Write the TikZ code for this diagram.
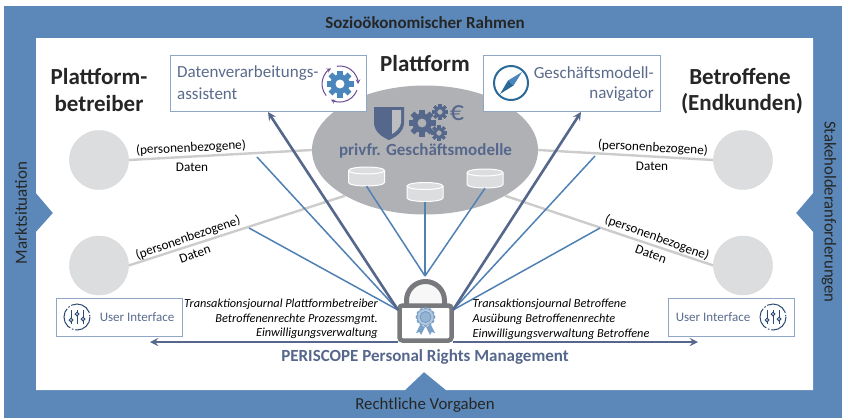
\documentclass[tikz,border=0pt]{standalone}
\usepackage{fontspec}
\setmainfont{Carlito}
\usetikzlibrary{shapes.geometric}

\definecolor{framebl}{HTML}{5B88B8}
\definecolor{linebl}{HTML}{4F81B5}
\definecolor{darkbl}{HTML}{56678C}
\definecolor{boxbl}{HTML}{8FA6C4}
\definecolor{iconbl}{HTML}{4A86BC}
\definecolor{txtbl}{HTML}{5A6B8C}
\definecolor{ellgr}{HTML}{B0B1B5}
\definecolor{dbgr}{HTML}{DCDDDF}
\definecolor{lockgr}{HTML}{77797C}
\definecolor{purp}{HTML}{6A4C93}
\definecolor{compbl}{HTML}{2A6A98}
\definecolor{uibl}{HTML}{2D4A73}

\newcommand{\fsz}[1]{\fontsize{#1}{#1}\selectfont}

\tikzset{
  pics/gearpic/.style={code={
    \path[pic actions, even odd rule] (0,0) circle (.72) (0,0) circle (.34);
    \foreach \a in {0,45,...,315}
      \path[pic actions, rotate=\a] (-.2,.6) rectangle (.2,1);
  }},
  pics/uipic/.style={code={
    \draw[uibl, line width=1pt, dash pattern=on 22pt off 2pt on 1.5pt off 2pt] (0,0) circle (13);
    \foreach \x/\y in {-6/3,0/-3,6/2} {
      \draw[uibl, line width=1pt] (\x,-7) -- (\x,7);
      \draw[uibl, fill=white, line width=1pt] (\x,\y) circle (1.8);
    }
  }},
  pics/dbpic/.style={code={
    \draw[white, fill=dbgr, line width=1pt] (-18,-6) -- (-18,6) arc[start angle=180, end angle=0, x radius=18, y radius=3.5]
      -- (18,-6) arc[start angle=0, end angle=-180, x radius=18, y radius=3.5] -- cycle;
    \draw[white, line width=1pt] (-18,-6) arc[start angle=180, end angle=0, x radius=18, y radius=3.5];
  }}
}

\begin{document}
\begin{tikzpicture}[x=1pt,y=-1pt]
  \useasboundingbox (0,0) rectangle (842,418);

  % frame
  \fill[framebl] (4,6) rectangle (842,418);
  \fill[white] (36,38) -- (813,38) -- (813,193) -- (796,213) -- (813,232) -- (813,390)
    -- (446,390) -- (424,372) -- (405,390) -- (36,390) -- (36,232) -- (53,213) -- (36,193) -- cycle;

  \begin{scope}[every node/.style={inner sep=0pt}]
    \node[font=\fsz{17}\bfseries, text=black!85] (rahmen) at (425,23) {Sozioökonomischer Rahmen};
    \node[font=\fsz{16.8}, text=black!85] (recht) at (425,405) {Rechtliche Vorgaben};
    \node[font=\fsz{17}, text=black!85, rotate=90] (markt) at (21,213) {Marktsituation};
    \node[font=\fsz{16.7}, text=black!85, rotate=-90] (stake) at (829,212) {Stakeholderanforderungen};
  \end{scope}

  % persons and platform
  \begin{scope}[every node/.style={circle, draw=black!15, fill=dbgr, minimum size=59pt, inner sep=0pt}]
    \node (pb1) at (99,160) {};
    \node (pb2) at (99,265.5) {};
    \node (bt1) at (743,160) {};
    \node (bt2) at (743,265.5) {};
  \end{scope}

  \node[ellipse, fill=ellgr, minimum width=226pt, minimum height=129pt, inner sep=0pt] (gm) at (425,150) {};

  \begin{scope}[every edge/.style={draw=black!20, line width=2.4pt}]
    \path (pb1.east) edge (gm.west);
    \path (pb2.east) edge (gm.south west);
    \path (bt1.west) edge (gm.east);
    \path (bt2.west) edge (gm.south east);
  \end{scope}

  % data bases
  \begin{scope}[every node/.style={minimum width=36pt, minimum height=19pt, inner sep=0pt}]
    \node (db1) at (366.5,176.5) {};
    \node (db2) at (425,192) {};
    \node (db3) at (485,178.5) {};
  \end{scope}
  \pic at (db1) {dbpic};
  \pic at (db2) {dbpic};
  \pic at (db3) {dbpic};

  % lock
  \draw[lockgr, fill=black!3, line width=5pt] (406.5,306) -- (406.5,300.5) arc[start angle=180, end angle=360, radius=19] -- (444.5,306);
  \node[draw=lockgr, fill=white, line width=4.5pt, rounded corners=3pt, minimum width=52pt, minimum height=35pt, inner sep=0pt] (lock) at (425.5,323) {};
  \coordinate (locktop) at (425,276);
  \coordinate (lockl) at (398,310);
  \coordinate (lockr) at (453,310);
  \foreach \a in {0,30,...,330}
    \fill[linebl!75] (425.5,317) ++(\a:7.7) circle (2.2);
  \fill[linebl!45] (425.5,317) circle (8);
  \draw[linebl!80, fill=linebl!60, line width=.8pt] (425.5,317) circle (5.5);
  \fill[linebl!75] (420,325) -- (425,327) -- (421,335) -- (419.5,332) -- (416,333) -- cycle;
  \fill[linebl!75] (431,325) -- (426,327) -- (430,335) -- (431.5,332) -- (435,333) -- cycle;

  % free ends of the lines
  \coordinate (f1) at (257,157);
  \coordinate (f2) at (249,228);
  \coordinate (f3) at (595,156);
  \coordinate (f4) at (600,228);
  \coordinate (t1) at (268,112);
  \coordinate (t2) at (581,112);
  \coordinate (a1) at (150,342);
  \coordinate (a2) at (698,342);
  \coordinate (a3) at (398,342);
  \coordinate (a4) at (453,342);

  \begin{scope}[every edge/.style={draw=linebl, line width=1.5pt}]
    \path (lockl) edge (f1);
    \path (lockl) edge (f2);
    \path (lockr) edge (f3);
    \path (lockr) edge (f4);
    \path (locktop) edge (db1.south);
    \path (locktop) edge (db2.south);
    \path (locktop) edge (db3.south);
  \end{scope}

  % top boxes
  \begin{scope}[every node/.style={draw=boxbl, fill=white, line width=1pt, minimum height=56pt, inner sep=0pt}]
    \node[minimum width=196pt] (assist) at (268.5,83) {};
    \node[minimum width=177pt] (navi) at (571.5,83) {};
  \end{scope}

  \begin{scope}[every edge/.style={draw=darkbl, line width=2.6pt, -stealth}]
    \path (lockl) edge (t1);
    \path (lockr) edge (t2);
    \path (a3) edge (a1);
    \path (a4) edge (a2);
  \end{scope}

  % UI boxes
  \begin{scope}[every node/.style={draw=boxbl, fill=white, line width=1pt, minimum width=126pt, minimum height=38pt, inner sep=0pt}]
    \node (ui1) at (119,317) {};
    \node (ui2) at (731,317) {};
  \end{scope}
  \pic at (77,317) {uipic};
  \pic at (773,317) {uipic};

  % icons
  \pic[fill=iconbl, scale=13.5] at (340,84) {gearpic};
  \foreach \a in {20,140,260}
    \draw[purp, line width=1pt, -stealth] (340,84) ++(\a:18) arc[start angle=\a, end angle=\a+100, radius=18];
  \draw[compbl, fill=white, line width=2pt] (511,83) circle (17);
  \fill[iconbl] (522,72) -- (508,80.5) -- (513.5,85.5) -- cycle;
  \fill[compbl] (500,94) -- (508,80.5) -- (513.5,85.5) -- cycle;

  \fill[darkbl] (374,107) -- (404,107) -- (404,124) .. controls (403,132) and (396,137) .. (389,140)
     .. controls (382,137) and (375,132) .. (374,124) -- cycle;
  \fill[ellgr!85] (392,110) -- (401,110) -- (401,123) .. controls (400,128) and (396,132) .. (392,134) -- cycle;
  \pic[fill=darkbl, scale=13.5] at (422,123) {gearpic};
  \pic[fill=darkbl, scale=8] at (440,112) {gearpic};
  \pic[fill=darkbl, scale=8] at (439,133) {gearpic};

  \begin{scope}[every node/.style={inner sep=0pt}]
    \node[font=\fsz{28}, text=darkbl] (euro) at (457,113) {€};
    \node[font=\fsz{17}\bfseries, text=darkbl] (gmtxt) at (425.5,151) {privfr. Geschäftsmodelle};

    \node[font=\fsz{23}\bfseries, text=black!85] (plat) at (425,64) {Plattform};
    \node[font=\fsz{23}\bfseries, text=black!85] (pbt1) at (99,77) {Plattform-};
    \node[font=\fsz{23}\bfseries, text=black!85] (pbt2) at (99,104) {betreiber};
    \node[font=\fsz{23}\bfseries, text=black!85] (bet1) at (740,77) {Betroffene};
    \node[font=\fsz{23}\bfseries, text=black!85] (bet2) at (742,104) {(Endkunden)};

    \node[font=\fsz{17}, text=txtbl, anchor=west] (as1) at (177,73) {Datenverarbeitungs-};
    \node[font=\fsz{17}, text=txtbl, anchor=west] (as2) at (177,94) {assistent};
    \node[font=\fsz{17}, text=txtbl, anchor=east] (nv1) at (654,73) {Geschäftsmodell-};
    \node[font=\fsz{17}, text=txtbl, anchor=east] (nv2) at (654,94) {navigator};

    \node[font=\fsz{13}, text=txtbl] (uit1) at (137,317) {User Interface};
    \node[font=\fsz{13}, text=txtbl] (uit2) at (713,317) {User Interface};

    \node[font=\fsz{13.2}, rotate=3] (d1) at (191,148) {(personenbezogene)};
    \node[font=\fsz{13.2}] (d2) at (192,167) {Daten};
    \node[font=\fsz{13.2}, rotate=-3] (d3) at (653,148) {(personenbezogene)};
    \node[font=\fsz{13.2}] (d4) at (652,166) {Daten};
    \node[font=\fsz{13.2}, rotate=19] (d5) at (188,238) {(personenbezogene)};
    \node[font=\fsz{13.2}, rotate=19] (d6) at (195,254) {Daten};
    \node[font=\fsz{13.2}, rotate=-20] (d7) at (657,238) {(personenbezogene)};
    \node[font=\fsz{13.2}, rotate=-20] (d8) at (651,254) {Daten};

    \node[font=\fsz{12.3}\itshape, anchor=east] (j1) at (378,304) {Transaktionsjournal Plattformbetreiber};
    \node[font=\fsz{12.3}\itshape, anchor=east] (j2) at (378,319) {Betroffenenrechte Prozessmgmt.};
    \node[font=\fsz{12.3}\itshape, anchor=east] (j3) at (378,333.5) {Einwilligungsverwaltung};
    \node[font=\fsz{12.3}\itshape, anchor=west] (j4) at (472.5,304) {Transaktionsjournal Betroffene};
    \node[font=\fsz{12.3}\itshape, anchor=west] (j5) at (472.5,319) {Ausübung Betroffenenrechte};
    \node[font=\fsz{12.3}\itshape, anchor=west] (j6) at (472.5,334) {Einwilligungsverwaltung Betroffene};

    \node[font=\fsz{17}\bfseries, text=darkbl] (prm) at (425,357) {PERISCOPE Personal Rights Management};
  \end{scope}
\end{tikzpicture}
\end{document}
